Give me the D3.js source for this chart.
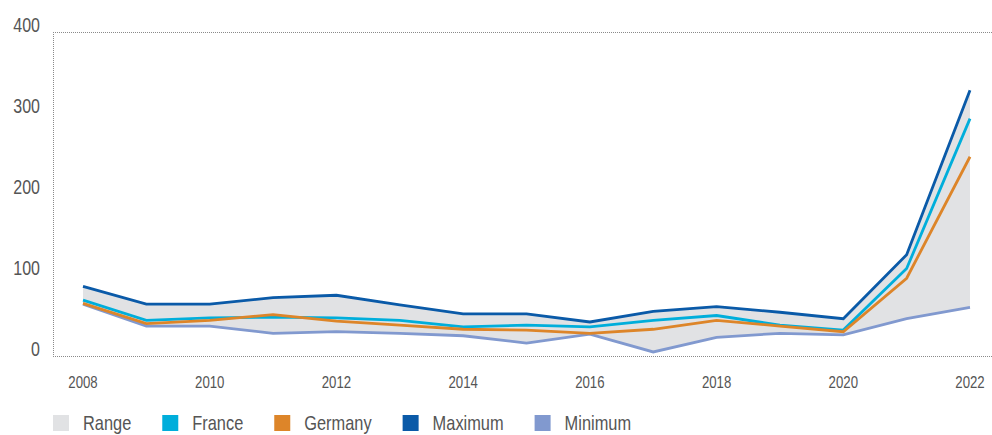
<!DOCTYPE html>
<html>
<head>
<meta charset="utf-8">
<script src="https://cdn.jsdelivr.net/npm/d3@7"></script>
<style>
  html, body { margin: 0; padding: 0; background: #fff; }
  svg { display: block; }
  text { font-family: "Liberation Sans", Arial, sans-serif; fill: #555; }
</style>
</head>
<body>
<svg id="chart" width="992" height="435"></svg>
<script>
const years    = [2008, 2009, 2010, 2011, 2012, 2013, 2014, 2015, 2016, 2017, 2018, 2019, 2020, 2021, 2022];
const france   = [69, 44, 47, 48, 47, 44, 36, 38, 36, 44, 50, 38, 32, 108, 293];
const germany  = [65, 40, 44, 51, 43, 38, 33, 32, 28, 33, 44, 37, 30, 96, 246];
const maximum  = [86, 64, 64, 72, 75, 63, 52, 52, 42, 55, 61, 54, 46, 125, 328];
const minimum  = [64, 37, 37, 28, 30, 28, 25, 16, 27, 5, 23, 28, 26, 46, 60];
const yTicks   = [0, 100, 200, 300, 400];
const xTicks   = [2008, 2010, 2012, 2014, 2016, 2018, 2020, 2022];
const legendItems = ["Range", "France", "Germany", "Maximum", "Minimum"];
const colors = { Range: "#e1e2e4", France: "#00aedb", Germany: "#dd8529", Maximum: "#0a5aa8", Minimum: "#8199cf" };

const SX = 0.8; // horizontal condensing of the text to mimic a condensed face

const svg = d3.select("#chart");
const x = d3.scaleLinear().domain([2008, 2022]).range([83, 970]);
const y = d3.scaleLinear().domain([0, 400]).range([356, 32]);

// Frame lines (dotted)
const frame = svg.append("g").attr("stroke", "#8a8a8a").attr("stroke-width", 1).attr("stroke-dasharray", "1,1");
frame.append("line").attr("x1", 53).attr("x2", 992).attr("y1", y(400) + 0.5).attr("y2", y(400) + 0.5);
frame.append("line").attr("x1", 53).attr("x2", 992).attr("y1", y(0) + 0.5).attr("y2", y(0) + 0.5);
frame.append("line").attr("x1", 53.5).attr("x2", 53.5).attr("y1", y(400)).attr("y2", y(0));

// Range area
const area = d3.area()
  .x((d, i) => x(years[i]))
  .y0((d, i) => y(minimum[i]))
  .y1((d, i) => y(maximum[i]));
svg.append("path").datum(years).attr("d", area).attr("fill", colors.Range);

// Lines
const series = [
  ["Minimum", minimum], ["Maximum", maximum], ["France", france], ["Germany", germany]
];
const line = d3.line().x((d, i) => x(years[i])).y(d => y(d));
series.forEach(([name, vals]) => {
  svg.append("path").datum(vals).attr("d", line)
    .attr("fill", "none").attr("stroke", colors[name]).attr("stroke-width", 2.8)
    .attr("stroke-linejoin", "miter").attr("stroke-linecap", "butt");
});

// Y axis labels
svg.append("g").selectAll("text").data(yTicks).join("text")
  .attr("transform", d => `translate(40,${y(d)}) scale(${SX},1)`)
  .attr("text-anchor", "end")
  .style("font-size", "20px").text(d => d);

// X axis labels
svg.append("g").selectAll("text").data(xTicks).join("text")
  .attr("transform", d => `translate(${x(d)},388) scale(${SX},1)`)
  .attr("text-anchor", "middle")
  .style("font-size", "16.5px").text(d => d);

// Legend
const lg = svg.append("g");
let lx = 53;
legendItems.forEach(name => {
  lg.append("rect").attr("x", lx).attr("y", 415).attr("width", 16).attr("height", 16).attr("fill", colors[name]);
  const t = lg.append("text")
    .attr("transform", `translate(${lx + 30},430) scale(0.82,1)`)
    .style("font-size", "20px").text(name);
  const w = t.node().getComputedTextLength() * 0.82;
  lx = lx + 30 + w + 31;
});
</script>
</body>
</html>
